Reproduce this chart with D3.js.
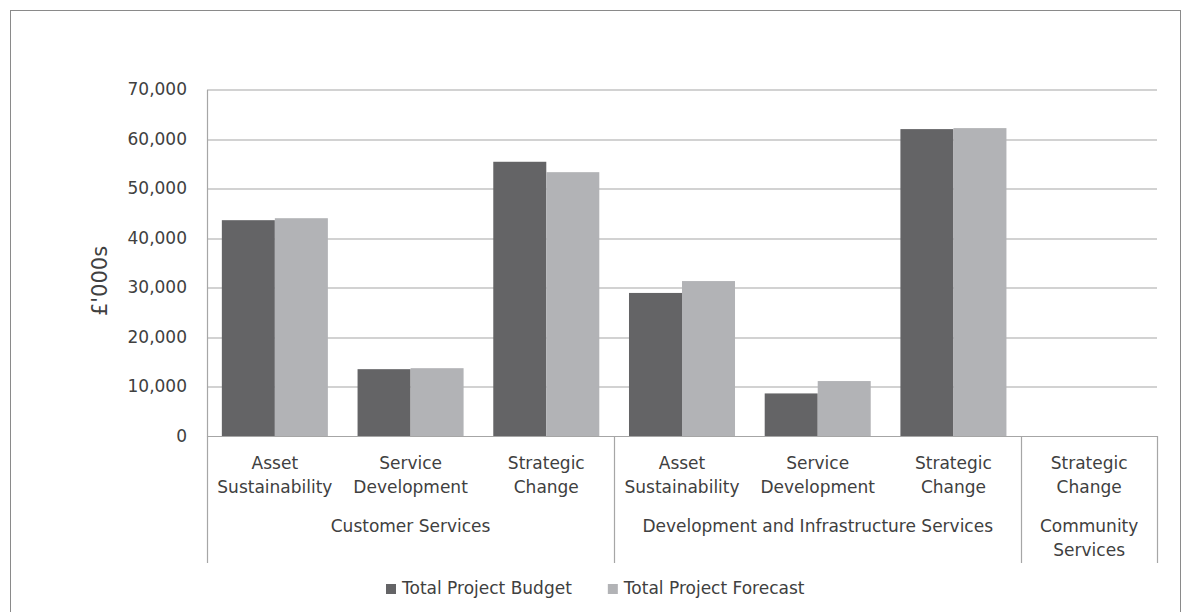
<!DOCTYPE html>
<html>
<head>
<meta charset="utf-8">
<script src="https://cdnjs.cloudflare.com/ajax/libs/d3/7.8.5/d3.min.js"></script>
<style>
  html, body { margin: 0; padding: 0; background: #fff; }
  svg { display: block; }
  text { font-family: "DejaVu Sans", Verdana, sans-serif; fill: #404040; }
</style>
</head>
<body>
<svg id="chart" width="1191" height="612"></svg>
<script>
// Capital programme by service and project type (£'000s)
const categories = [
  "Asset Sustainability", "Service Development", "Strategic Change",
  "Asset Sustainability", "Service Development", "Strategic Change",
  "Strategic Change"
];
const groupNames = ["Customer Services", "Development and Infrastructure Services", "Community Services"];
const groupSizes = [3, 3, 1];
const seriesNames = ["Total Project Budget", "Total Project Forecast"];
const budget = [43600, 13500, 55400, 28900, 8600, 62000, null];
const forecast = [44000, 13700, 53300, 31300, 11100, 62200, null];
const yTicks = [0, 10000, 20000, 30000, 40000, 50000, 60000, 70000];
const colors = ["#646466", "#b2b3b6"];

const FONT = "17px";
const svg = d3.select("#chart");
const W = 1191, H = 612;
const margin = { left: 207, right: 34, top: 89.5, bottom: 176 };
const plotW = W - margin.left - margin.right;
const plotH = H - margin.top - margin.bottom;

// outer frame
svg.append("rect")
  .attr("x", 10.5).attr("y", 10.5)
  .attr("width", W - 21).attr("height", H - 10)
  .attr("fill", "none").attr("stroke", "#8a8a8a").attr("stroke-width", 1);

const g = svg.append("g").attr("transform", `translate(${margin.left},${margin.top})`);

const idx = categories.map((_, i) => i);
const x0 = d3.scaleBand().domain(idx).range([0, plotW]).padding(0);
const x1 = d3.scaleBand().domain([0, 1]).range([0, x0.bandwidth()]).paddingInner(0).paddingOuter(0.28);
const y = d3.scaleLinear().domain([0, 70000]).range([plotH, 0]);

// gridlines
g.append("g").selectAll("line").data(yTicks.filter(t => t > 0)).join("line")
  .attr("x1", 0).attr("x2", plotW)
  .attr("y1", d => Math.round(y(d)) + 0.5).attr("y2", d => Math.round(y(d)) + 0.5)
  .attr("stroke", "#a6a6a6").attr("stroke-width", 1.2);

// y axis
const yAxis = g.append("g").call(
  d3.axisLeft(y).tickValues(yTicks).tickFormat(d3.format(",")).tickSize(0).tickPadding(20)
);
yAxis.select(".domain").attr("stroke", "#a6a6a6").attr("stroke-width", 1.2);
yAxis.selectAll("text").style("font-size", FONT).attr("fill", "#404040")
  .style("font-family", "'DejaVu Sans', Verdana, sans-serif");

// bars
const rows = idx.map(i => ({ i, vals: [budget[i], forecast[i]] }));
const cat = g.append("g").selectAll("g").data(rows).join("g")
  .attr("transform", d => `translate(${x0(d.i)},0)`);
cat.selectAll("rect")
  .data(d => d.vals.map((v, s) => ({ v, s })).filter(e => e.v != null))
  .join("rect")
  .attr("x", e => x1(e.s))
  .attr("width", x1.bandwidth())
  .attr("y", e => y(e.v))
  .attr("height", e => y(0) - y(e.v))
  .attr("fill", e => colors[e.s]);

// x axis baseline
g.append("line").attr("x1", 0).attr("x2", plotW)
  .attr("y1", plotH + 0.5).attr("y2", plotH + 0.5)
  .attr("stroke", "#a6a6a6").attr("stroke-width", 1.2);

// category labels (two lines)
const catLabels = g.append("g").selectAll("text").data(idx).join("text")
  .attr("text-anchor", "middle")
  .style("font-size", FONT)
  .attr("transform", i => `translate(${x0(i) + x0.bandwidth() / 2},${plotH + 33})`);
catLabels.each(function (i) {
  const words = categories[i].split(" ");
  const t = d3.select(this);
  words.forEach((w, k) => t.append("tspan").attr("x", 0).attr("dy", k === 0 ? 0 : 24).text(w));
});

// group dividers and labels
let start = 0;
const bounds = [0];
groupSizes.forEach(n => { start += n; bounds.push(start); });
g.append("g").selectAll("line").data(bounds).join("line")
  .attr("x1", b => Math.round(b * x0.step()) + 0.5)
  .attr("x2", b => Math.round(b * x0.step()) + 0.5)
  .attr("y1", plotH).attr("y2", plotH + 127)
  .attr("stroke", "#a6a6a6").attr("stroke-width", 1.2);

groupNames.forEach((name, k) => {
  const a = bounds[k] * x0.step(), b = bounds[k + 1] * x0.step();
  const t = g.append("text").attr("text-anchor", "middle").style("font-size", FONT)
    .attr("transform", `translate(${(a + b) / 2},${plotH + 96})`);
  t.text(name);
  if (t.node().getComputedTextLength() > (b - a) - 10) {
    t.text(null);
    name.split(" ").forEach((w, j) => t.append("tspan").attr("x", 0).attr("dy", j === 0 ? 0 : 24).text(w));
  }
});

// y axis title
svg.append("text")
  .attr("transform", `translate(107,281) rotate(-90)`)
  .attr("text-anchor", "middle")
  .style("font-size", "21px")
  .text("£'000s");

// legend
const legend = svg.append("g").attr("transform", "translate(386,594)");
let lx = 0;
seriesNames.forEach((name, s) => {
  const item = legend.append("g").attr("transform", `translate(${lx},0)`);
  item.append("rect").attr("x", 0).attr("y", -10).attr("width", 10).attr("height", 10).attr("fill", colors[s]);
  const t = item.append("text").attr("x", 16).attr("y", 0).style("font-size", FONT).text(name);
  lx += 16 + t.node().getComputedTextLength() + 36;
});
</script>
</body>
</html>
